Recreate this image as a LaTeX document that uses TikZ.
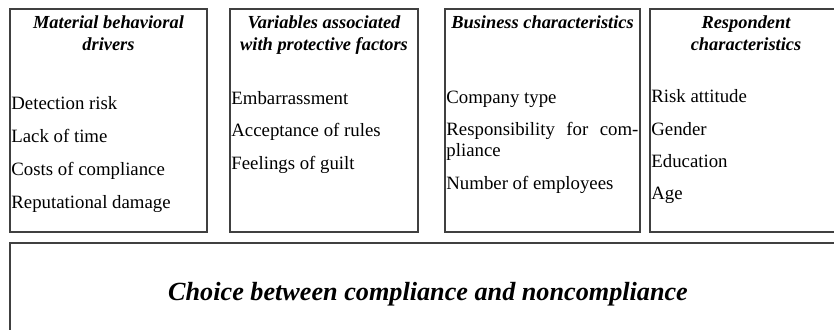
\documentclass[tikz,border=0pt]{standalone}
\usepackage{fontspec}
\setmainfont{Liberation Serif}
\usetikzlibrary{fit,positioning}

\tikzset{
  panel/.style={draw=black!75, line width=0.8pt, inner sep=0pt},
  heading/.style={font=\fontsize{9.2}{11}\selectfont\bfseries\itshape,
                  align=center, anchor=north, inner sep=0pt},
  item/.style={font=\fontsize{9.4}{10.5}\selectfont, anchor=base west, inner sep=0pt},
  verdict/.style={font=\fontsize{13.1}{15}\selectfont\bfseries\itshape, inner sep=0pt}
}

\begin{document}
\begin{tikzpicture}[x=0.5pt, y=-0.5pt]
  \clip (0,0) rectangle (834,329);

  % the four groups of factors
  \node[panel, fit={(10,9) (207,232)}] (drivers) {};
  \node[panel, fit={(230,9) (418,232)}] (protect) {};
  \node[panel, fit={(445,9) (640,232)}] (business) {};
  \node[panel, fit={(650,9) (842,232)}] (respond) {};

  % the choice itself, runs off the page
  \node[panel, fit={(10,243) (846,345)}] (choice) {};

  \node[heading] (drivers-t) at ([yshift=-3.5pt]drivers.north) {Material behavioral\\drivers};
  \node[heading] (protect-t) at ([yshift=-3.5pt]protect.north) {Variables associated\\with protective factors};
  \node[heading] (business-t) at ([yshift=-3.5pt]business.north) {Business characteristics};
  \node[heading] (respond-t) at ([yshift=-3.5pt]respond.north) {Respondent\\characteristics};

  % items, placed on their baselines
  \foreach \y/\txt [count=\i] in {109/Detection risk, 142/Lack of time,
      175/Costs of compliance, 208/Reputational damage}
    \node[item] (drivers-\i) at (11,\y) {\txt};

  \foreach \y/\txt [count=\i] in {104/Embarrassment, 136.5/Acceptance of rules,
      169/Feelings of guilt}
    \node[item] (protect-\i) at (231,\y) {\txt};

  \node[item] (business-1) at (446,103) {Company type};
  \node[item, text width=96pt] (business-2) at (446,135.5)
    {Responsibility\hfill for\hfill com-};
  \node[item] (business-2b) at (446,156) {pliance};
  \node[item] (business-3) at (446,189) {Number of employees};

  \foreach \y/\txt [count=\i] in {102.5/Risk attitude, 135/Gender,
      167/Education, 199/Age}
    \node[item] (respond-\i) at (651,\y) {\txt};

  \node[verdict] (choice-t) at (choice.center)
    {Choice between compliance and noncompliance};
\end{tikzpicture}
\end{document}
